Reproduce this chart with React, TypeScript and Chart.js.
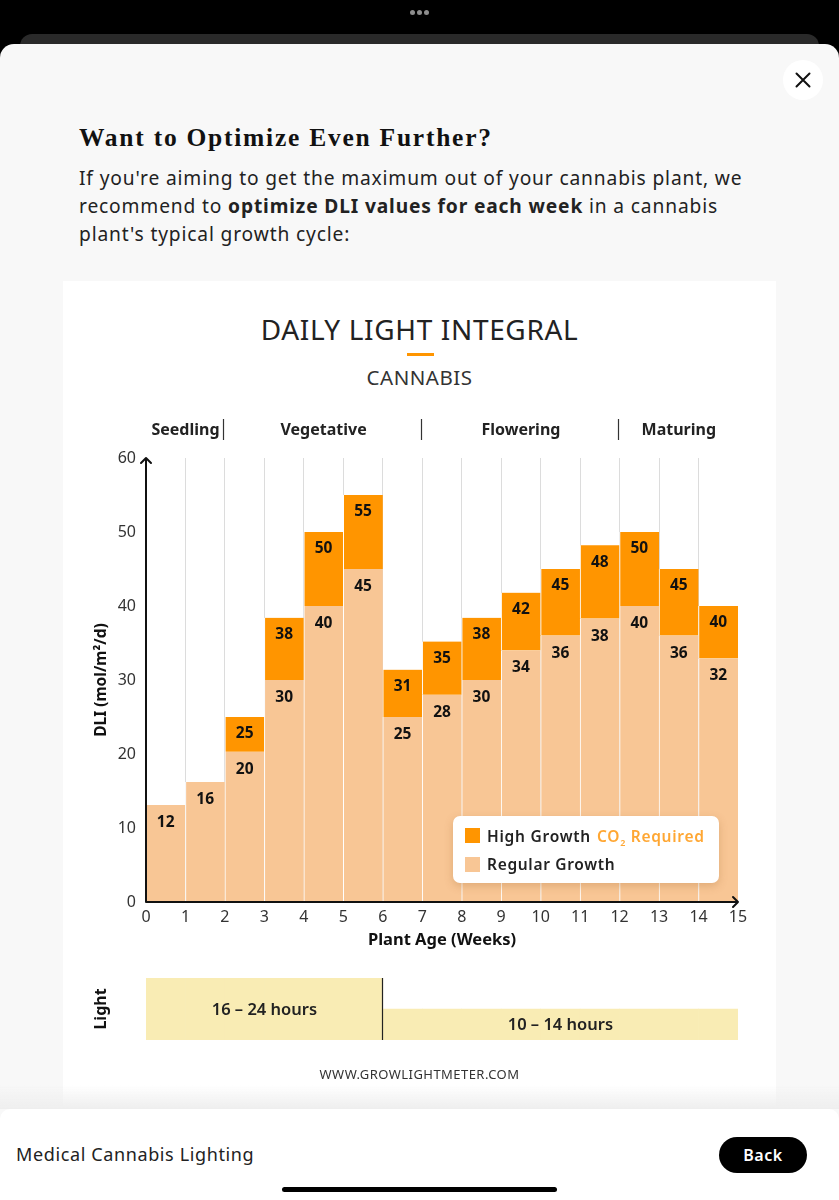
import React, { useEffect, useRef } from "react";
import { Chart, registerables } from "chart.js";

Chart.register(...registerables);

const SANS = '"Noto Sans", sans-serif';
const weeks = [0.5, 1.5, 2.5, 3.5, 4.5, 5.5, 6.5, 7.5, 8.5, 9.5, 10.5, 11.5, 12.5, 13.5, 14.5];
const regularHeights = [13.1, 16.2, 20.3, 30, 40, 45, 25, 28, 30, 34, 36, 38.3, 40, 36, 32.9];
const regularLabels = ["12", "16", "20", "30", "40", "45", "25", "28", "30", "34", "36", "38", "40", "36", "32"];
const highHeights = [null, null, 25, 38.4, 50, 55, 31.4, 35.2, 38.4, 41.8, 45, 48.2, 50, 45, 40];
const highLabels = ["", "", "25", "38", "50", "55", "31", "35", "38", "42", "45", "48", "50", "45", "40"];
const stageNames = ["Seedling", "Vegetative", "Flowering", "Maturing"];
const stageCenters = [1, 4.5, 9.5, 13.5];
const stageDividers = [2, 7, 12];
const lightHours = [24, 24, 24, 24, 24, 24, 14, 14, 14, 14, 14, 14, 14, 14, 14];
const lightLabels = ["16 – 24 hours", "10 – 14 hours"];
const lightCenters = [3, 10.5];
const lightTops = [24, 14];
const lightSwitchWeek = 6;

const mainPlugin = {
  id: "mainMarks",
  afterDatasetsDraw(chart: any) {
    const { ctx, scales: { x, y }, chartArea: a } = chart;
    ctx.save();
    ctx.textAlign = "center";
    ctx.textBaseline = "middle";
    ctx.fillStyle = "#111";
    ctx.font = `700 15.5px ${SANS}`;
    weeks.forEach((w, i) => {
      ctx.fillText(regularLabels[i], x.getPixelForValue(w), y.getPixelForValue(regularHeights[i]) + 17.5);
      const h = highHeights[i];
      if (h !== null) ctx.fillText(highLabels[i], x.getPixelForValue(w), y.getPixelForValue(h) + 17);
    });
    ctx.font = `700 16px ${SANS}`;
    ctx.fillStyle = "#222";
    stageNames.forEach((n, i) => ctx.fillText(n, x.getPixelForValue(stageCenters[i]), a.top - 28));
    ctx.strokeStyle = "#333";
    ctx.lineWidth = 1.2;
    stageDividers.forEach((d) => {
      const px = Math.floor(x.getPixelForValue(d)) - 0.5;
      ctx.beginPath();
      ctx.moveTo(px, a.top - 39);
      ctx.lineTo(px, a.top - 18);
      ctx.stroke();
    });
    // axis lines with arrow heads
    ctx.strokeStyle = "#111";
    ctx.lineWidth = 2;
    ctx.lineCap = "round";
    ctx.lineJoin = "round";
    ctx.beginPath();
    ctx.moveTo(a.left, a.top);
    ctx.lineTo(a.left, a.bottom);
    ctx.lineTo(a.right, a.bottom);
    ctx.moveTo(a.left - 5, a.top + 5);
    ctx.lineTo(a.left, a.top);
    ctx.lineTo(a.left + 5, a.top + 5);
    ctx.moveTo(a.right - 5, a.bottom - 5);
    ctx.lineTo(a.right, a.bottom);
    ctx.lineTo(a.right - 5, a.bottom + 5);
    ctx.stroke();
    ctx.restore();
  },
};

const lightPlugin = {
  id: "lightMarks",
  afterDatasetsDraw(chart: any) {
    const { ctx, scales: { x, y }, chartArea: a } = chart;
    ctx.save();
    ctx.textAlign = "center";
    ctx.textBaseline = "middle";
    ctx.fillStyle = "#222";
    ctx.font = `600 16.5px ${SANS}`;
    lightLabels.forEach((l, i) => {
      const mid = (y.getPixelForValue(lightTops[i]) + a.bottom) / 2;
      ctx.fillText(l, x.getPixelForValue(lightCenters[i]), mid + 1);
    });
    const px = Math.round(x.getPixelForValue(lightSwitchWeek)) - 0.5;
    ctx.strokeStyle = "#222";
    ctx.lineWidth = 1.2;
    ctx.beginPath();
    ctx.moveTo(px, a.top);
    ctx.lineTo(px, a.bottom);
    ctx.stroke();
    ctx.restore();
  },
};

const abs = (left: number, top: number, extra: React.CSSProperties = {}): React.CSSProperties => ({
  position: "absolute",
  left,
  top,
  ...extra,
});

function Line({ y, children }: { y: number; children: React.ReactNode }) {
  return (
    <div style={abs(79, y - 14, { lineHeight: "28px", fontSize: 19.2, letterSpacing: 0.85, color: "#222", whiteSpace: "nowrap" })}>
      {children}
    </div>
  );
}

export default function App() {
  const mainRef = useRef<HTMLCanvasElement>(null);
  const lightRef = useRef<HTMLCanvasElement>(null);

  useEffect(() => {
    const main = new Chart(mainRef.current!, {
      type: "bar",
      plugins: [mainPlugin],
      data: {
        datasets: [
          {
            label: "Regular Growth",
            data: weeks.map((w, i) => ({ x: w, y: regularHeights[i] })),
            backgroundColor: "#f8c695",
            borderColor: "#ffffff",
            borderWidth: { left: 1, right: 0, top: 0, bottom: 0 },
            barPercentage: 1,
            categoryPercentage: 1,
          },
          {
            label: "High Growth",
            data: weeks
              .map((w, i) => ({ x: w, y: highHeights[i] === null ? null : [regularHeights[i], highHeights[i]] }))
              .filter((d) => d.y !== null),
            backgroundColor: "#ff9500",
            borderColor: "#ffffff",
            borderWidth: { left: 1, right: 0, top: 0, bottom: 0 },
            barPercentage: 1,
            categoryPercentage: 1,
          },
        ],
      } as any,
      options: {
        animation: false,
        responsive: false,
        layout: { padding: { top: 177, right: 38, left: 0, bottom: 0 } },
        plugins: { legend: { display: false }, tooltip: { enabled: false } },
        scales: {
          x: {
            type: "linear",
            min: 0,
            max: 15,
            stacked: true,
            offset: false,
            afterFit: (s: any) => { s.height = 58; },
            border: { display: false },
            grid: {
              offset: false,
              drawTicks: false,
              lineWidth: 1,
              color: (c: any) => (c.tick && (c.tick.value === 0 || c.tick.value === 15) ? "rgba(0,0,0,0)" : "#dcdcdc"),
            },
            ticks: { stepSize: 1, autoSkip: false, maxRotation: 0, padding: 6, color: "#333", font: { family: SANS, size: 16 } },
            title: { display: true, text: "Plant Age (Weeks)", color: "#111", font: { family: SANS, size: 16.5, weight: 700 }, padding: { top: 0, bottom: 10 } },
          },
          y: {
            min: 0,
            max: 60,
            stacked: false,
            afterFit: (s: any) => { s.width = 83; },
            border: { display: false },
            grid: { display: false, drawTicks: false },
            ticks: { stepSize: 10, padding: 10, color: "#333", font: { family: SANS, size: 16 } },
            title: { display: true, text: "DLI (mol/m²/d)", color: "#111", font: { family: SANS, size: 15.5, weight: 700 }, padding: { top: 29, bottom: 0 } },
          },
        },
      } as any,
    });

    const light = new Chart(lightRef.current!, {
      type: "bar",
      plugins: [lightPlugin],
      data: {
        datasets: [
          {
            label: "Light",
            data: weeks.map((w, i) => ({ x: w, y: lightHours[i] })),
            backgroundColor: "#f9ecb4",
            borderWidth: 0,
            barPercentage: 1,
            categoryPercentage: 1,
          },
        ],
      } as any,
      options: {
        animation: false,
        responsive: false,
        layout: { padding: { top: 18, right: 38, left: 0, bottom: 62 } },
        plugins: { legend: { display: false }, tooltip: { enabled: false } },
        scales: {
          x: { type: "linear", min: 0, max: 15, offset: false, display: false },
          y: {
            min: 4,
            max: 24,
            afterFit: (s: any) => { s.width = 83; },
            border: { display: false },
            grid: { display: false, drawTicks: false },
            ticks: { display: false },
            title: { display: true, text: "Light", color: "#111", font: { family: SANS, size: 16, weight: 700 }, padding: { top: 29, bottom: 0 } },
          },
        },
      } as any,
    });

    return () => {
      main.destroy();
      light.destroy();
    };
  }, []);

  return (
    <div style={{ position: "absolute", left: 0, top: 0, width: 839, height: 1200, overflow: "hidden", background: "#000", fontFamily: SANS }}>
      <style>{`html,body{margin:0;padding:0;background:#000}`}</style>
      {/* top handle */}
      {[-7, 0, 7].map((d) => (
        <div key={d} style={abs(419 + d - 2.5, 9.5, { width: 5, height: 5, borderRadius: 3, background: "#8d8d8d" })} />
      ))}
      <div style={abs(20, 34, { width: 799, height: 30, borderRadius: 12, background: "#2a2a2a" })} />
      {/* sheet */}
      <div style={abs(0, 44, { width: 839, height: 1156, background: "#f8f8f8", borderRadius: "14px 14px 0 0" })} />
      <div style={abs(783, 60, { width: 40, height: 40, borderRadius: 20, background: "#fff" })} />
      <svg style={abs(795, 72)} width="16" height="16">
        <path d="M1.5 1.5L14.5 14.5M14.5 1.5L1.5 14.5" stroke="#111" strokeWidth="2" strokeLinecap="round" />
      </svg>
      <div style={abs(79, 123, { fontFamily: '"Liberation Serif", serif', fontWeight: 700, fontSize: 25.5, letterSpacing: 1.75, lineHeight: "30px", color: "#111", whiteSpace: "nowrap" })}>
        Want to Optimize Even Further?
      </div>
      <Line y={178}>If you're aiming to get the maximum out of your cannabis plant, we</Line>
      <Line y={206}>
        recommend to <b>optimize DLI values for each week</b> in a cannabis
      </Line>
      <Line y={234}>plant's typical growth cycle:</Line>

      {/* white card */}
      <div style={abs(63, 281, { width: 713, height: 825, background: "#fff" })} />
      <div style={abs(63, 313, { width: 713, textAlign: "center", fontSize: 28, lineHeight: "32px", letterSpacing: 0.65, color: "#222" })}>DAILY LIGHT INTEGRAL</div>
      <div style={abs(407, 353, { width: 27, height: 3, background: "#ff9500" })} />
      <div style={abs(63, 365, { width: 713, textAlign: "center", fontSize: 20.5, lineHeight: "24px", letterSpacing: 0.5, color: "#333" })}>CANNABIS</div>

      <canvas ref={mainRef} width={713} height={679} style={abs(63, 281, { display: "block" })} />
      <canvas ref={lightRef} width={713} height={142} style={abs(63, 960, { display: "block" })} />

      {/* legend */}
      <div style={abs(453, 816, { width: 266, height: 67, background: "#fff", borderRadius: 7, boxShadow: "0 3px 8px rgba(150,90,30,0.25)" })} />
      <div style={abs(465, 828, { width: 15, height: 15, background: "#ff9500" })} />
      <div style={abs(465, 857, { width: 15, height: 15, background: "#f8c695" })} />
      <div style={abs(487, 826, { fontSize: 15.5, fontWeight: 600, lineHeight: "20px", letterSpacing: 0.75, color: "#222", whiteSpace: "nowrap" })}>High Growth</div>
      <div style={abs(597, 826, { fontSize: 15.5, fontWeight: 600, lineHeight: "20px", letterSpacing: 0.7, color: "#ffa733", whiteSpace: "nowrap" })}>
        CO<sub style={{ fontSize: 9, lineHeight: 0 }}>2</sub> Required
      </div>
      <div style={abs(487, 854, { fontSize: 15.5, fontWeight: 600, lineHeight: "20px", letterSpacing: 0.68, color: "#222", whiteSpace: "nowrap" })}>Regular Growth</div>

      <div style={abs(63, 1066, { width: 713, textAlign: "center", fontSize: 13, lineHeight: "16px", letterSpacing: 0.45, color: "#333" })}>WWW.GROWLIGHTMETER.COM</div>

      {/* footer */}
      <div style={abs(0, 1085, { width: 839, height: 24, background: "linear-gradient(rgba(240,240,240,0),#eeeeee)" })} />
      <div style={abs(0, 1109, { width: 839, height: 91, background: "#fff", borderRadius: "10px 10px 0 0" })} />
      <div style={abs(16, 1142, { fontSize: 18, lineHeight: "24px", letterSpacing: 0.62, color: "#222", whiteSpace: "nowrap" })}>Medical Cannabis Lighting</div>
      <div style={abs(719, 1137, { width: 88, height: 36, borderRadius: 18, background: "#000", color: "#fff", textAlign: "center", lineHeight: "36px", fontSize: 16, fontWeight: 600, letterSpacing: 0.5 })}>Back</div>
      <div style={abs(282, 1187, { width: 275, height: 5, borderRadius: 3, background: "#000" })} />
    </div>
  );
}
